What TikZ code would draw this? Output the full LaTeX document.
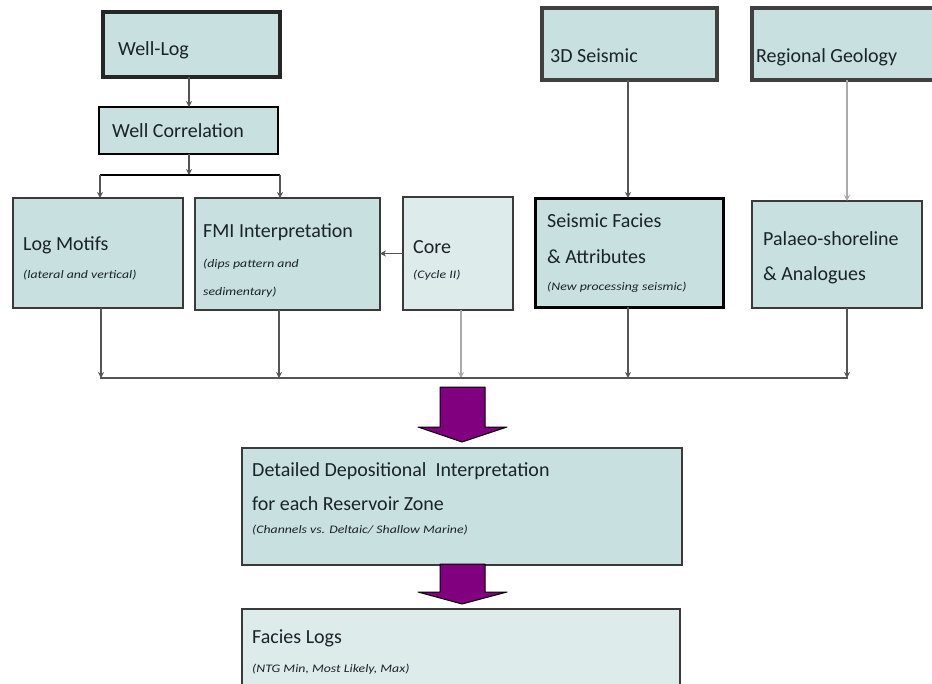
\documentclass[tikz,border=0pt]{standalone}
\usepackage{fontspec}
\setmainfont{Carlito}
\newfontfamily\subfont[FakeStretch=1.2]{Carlito}
\usetikzlibrary{arrows.meta}
\definecolor{boxfill}{HTML}{C9E0E0}
\definecolor{boxlight}{HTML}{DDEBEB}
\definecolor{txtc}{HTML}{1A2328}
\definecolor{edge}{HTML}{3A3A3A}
\definecolor{purp}{HTML}{800080}
\definecolor{conc}{HTML}{555555}
\definecolor{lightc}{HTML}{AAAAAA}
\begin{document}
\begin{tikzpicture}[x=1pt,y=-1pt,
  box/.style={draw=edge, line width=2.5pt, fill=boxfill, inner sep=0pt, outer sep=0pt, anchor=north west},
  topbox/.style={box, draw=black!85, line width=4pt},
  lbl/.style={anchor=base west, inner sep=0pt, text=txtc, font=\fontsize{20}{20}\selectfont},
  sublbl/.style={anchor=base west, inner sep=0pt, text=txtc, font=\subfont\fontsize{11.5}{11.5}\selectfont\itshape},
  conn/.style={draw=conc, line width=1.5pt, -{Stealth[length=6pt,width=6pt]}},
  lconn/.style={conn, draw=lightc},
  bar/.style={draw=black, line width=2.5pt},
  gbar/.style={draw=conc, line width=2.5pt},
  blockarrow/.style={fill=purp, draw=black, line width=1pt, line join=round}
]
\clip (0,0) rectangle (932,683);
\fill[white] (0,0) rectangle (932,683);

% top row
\node[topbox, minimum width=177pt, minimum height=65pt] (welllog) at (103,12) {};
\node[box, draw=black, minimum width=179pt, minimum height=47pt] (wellcorr) at (99,107) {};
\node[topbox, draw=black!75, minimum width=175pt, minimum height=72pt] (seis3d) at (542,8) {};
\node[topbox, draw=black!75, minimum width=190pt, minimum height=72pt] (regional) at (752,8) {};

% middle row
\node[box, minimum width=170pt, minimum height=110pt] (logmotifs) at (13,198) {};
\node[box, minimum width=185pt, minimum height=112pt] (fmi) at (195,198) {};
\node[box, fill=boxlight, minimum width=110pt, minimum height=113pt] (core) at (403,197) {};
\node[box, draw=black, line width=3pt, minimum width=188pt, minimum height=109pt] (seisfacies) at (535,198) {};
\node[box, minimum width=170pt, minimum height=107pt] (palaeo) at (752,201) {};

% bottom
\node[box, minimum width=440pt, minimum height=117pt] (detailed) at (242,448) {};
\node[box, fill=boxlight, minimum width=438pt, minimum height=90pt] (facies) at (242,609) {};

% labels
\node[lbl] (t1) at (118,55) {Well-Log};
\node[lbl] (t2) at (112,137) {Well Correlation};
\node[lbl] (t3) at (550,62) {3D Seismic};
\node[lbl] (t4) at (756,62) {Regional Geology};
\node[lbl] (t5) at (23,250) {Log Motifs};
\node[sublbl] (s5) at (23,278) {(lateral and vertical)};
\node[lbl] (t6) at (203,237) {FMI Interpretation};
\node[sublbl] (s6a) at (203,267) {(dips pattern and};
\node[sublbl] (s6b) at (203,295) {sedimentary)};
\node[lbl] (t7) at (413,253) {Core};
\node[sublbl] (s7) at (413,278) {(Cycle II)};
\node[lbl] (t8) at (547,227) {Seismic Facies};
\node[lbl] (t8b) at (547,263) {\& Attributes};
\node[sublbl] (s8) at (547,290) {(New processing seismic)};
\node[lbl] (t9) at (763,245) {Palaeo-shoreline};
\node[lbl] (t9b) at (763,280) {\& Analogues};
\node[lbl] (t10) at (252,476) {Detailed Depositional\ \ Interpretation};
\node[lbl] (t10b) at (252,510) {for each Reservoir Zone};
\node[sublbl] (s10) at (252,533) {(Channels vs. Deltaic/ Shallow Marine)};
\node[lbl] (t11) at (252,643) {Facies Logs};
\node[sublbl] (s11) at (252,672) {(NTG Min, Most Likely, Max)};

% coordinates
\coordinate (c0) at (189,0);
\coordinate (b1l) at (100,175);
\coordinate (b1r) at (280,175);
\coordinate (c1) at (101,378);
\coordinate (c2) at (279,378);
\coordinate (c3) at (461,378);
\coordinate (c4) at (628,378);
\coordinate (c5) at (847,378);

% connectors top-left
\draw[conn] (welllog.south -| c0) -- (wellcorr.north -| c0);
\draw[conn] (wellcorr.south -| c0) -- (c0 |- b1l);
\draw[bar] (b1l) -- (b1r);
\draw[conn] (b1l) -- (b1l |- logmotifs.north);
\draw[conn] (b1r) -- (b1r |- fmi.north);
\draw[conn] (core.west) -- (core.west -| fmi.east);
\draw[conn] (seis3d.south -| c4) -- (seisfacies.north -| c4);
\draw[lconn] (regional.south -| c5) -- (palaeo.north -| c5);

% to bottom bar
\draw[conn] (logmotifs.south -| c1) -- (c1);
\draw[conn] (fmi.south -| c2) -- (c2);
\draw[lconn] (core.south -| c3) -- (c3);
\draw[conn] (seisfacies.south -| c4) -- (c4);
\draw[conn] (palaeo.south -| c5) -- (c5);
\draw[gbar] (100,378) -- (848,378);

% purple block arrows
\draw[blockarrow] (440,387) -- (485,387) -- (485,427) -- (507,427) -- (462,442) -- (418,427) -- (440,427) -- cycle;
\draw[blockarrow] (440,564) -- (485,564) -- (485,592) -- (507,592) -- (462,604) -- (418,592) -- (440,592) -- cycle;
\end{tikzpicture}
\end{document}
